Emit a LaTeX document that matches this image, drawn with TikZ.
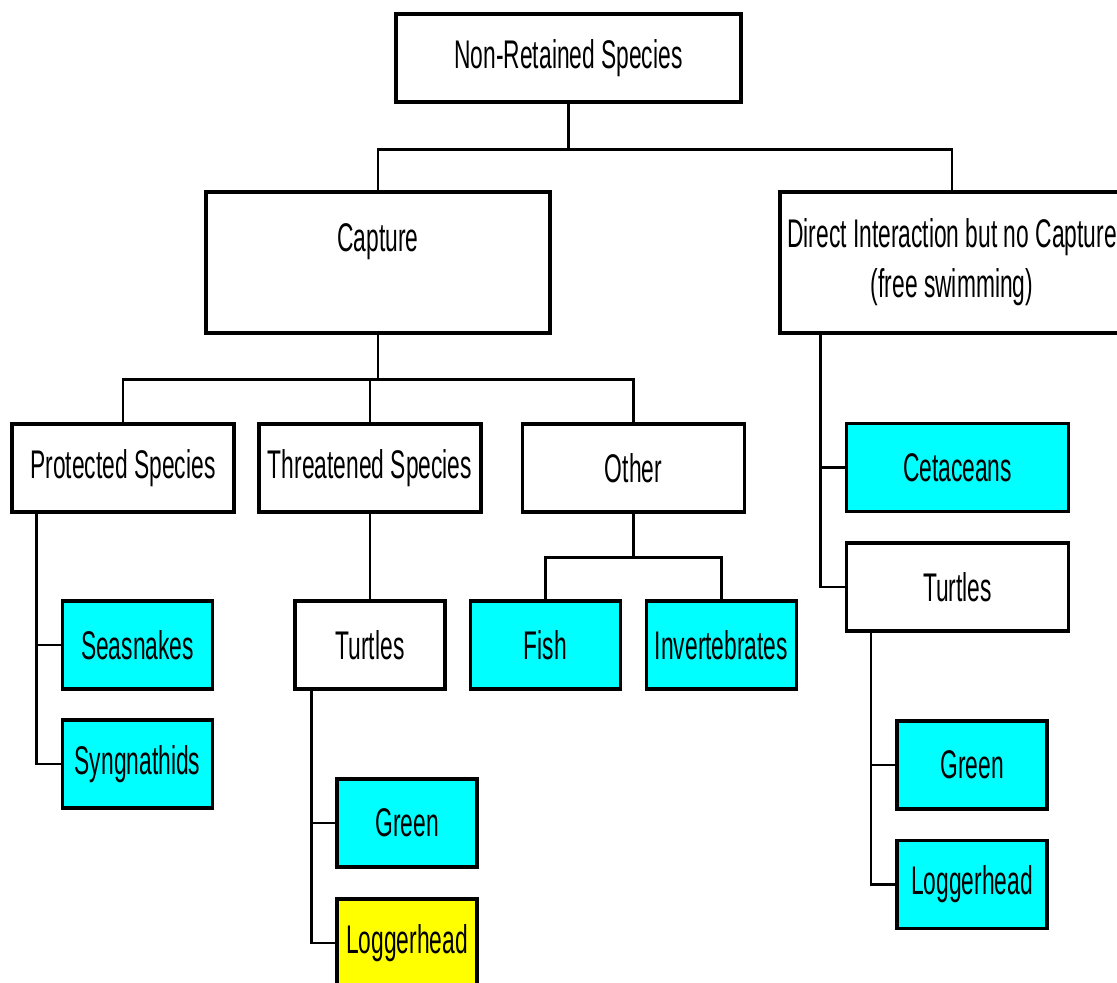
\documentclass[tikz,border=0pt]{standalone}
\usepackage{fontspec}
\setmainfont{Liberation Sans}[FakeStretch=0.57]
\definecolor{boxcyan}{HTML}{00FFFF}
\definecolor{boxyellow}{HTML}{FFFF00}
\begin{document}
\begin{tikzpicture}[x=1pt,y=-1pt,
  box/.style={draw=black, line width=3.4pt, fill=white, rectangle, inner sep=0pt,
    align=center, font=\fontsize{40}{50}\selectfont},
  wide/.style={box, minimum width=344pt, minimum height=141pt},
  mid/.style={box, minimum width=222pt, minimum height=88pt},
  small/.style={box, minimum width=150pt, minimum height=88pt},
  narrow/.style={box, minimum width=140pt, minimum height=88pt},
  cyanbox/.style={fill=boxcyan},
  yellowbox/.style={fill=boxyellow},
  link/.style={draw=black, line width=2.6pt}]
\useasboundingbox (0,0) rectangle (1117,983);

% level 0
\node[box, minimum width=345pt, minimum height=88pt] (root) at (568.5,58) {Non-Retained Species};

% level 1
\node[wide] (capture) at (378,262.5) {Capture\\\mbox{}};
\node[wide] (direct) at (952,262.5) {Direct Interaction but no Capture\\(free swimming)};

% level 2
\node[mid] (protected) at (123,468) {Protected Species};
\node[mid] (threatened) at (370,468) {Threatened Species};
\node[mid] (other) at (633.5,468) {Other};
\node[mid, cyanbox] (cetaceans) at (957.5,467.5) {Cetaceans};
\node[mid] (turtlesB) at (957.5,587) {Turtles};

% level 3
\node[small, cyanbox] (seasnakes) at (137.5,645) {Seasnakes};
\node[small, cyanbox] (syngnathids) at (137.5,764) {Syngnathids};
\node[small] (turtlesA) at (370,645) {Turtles};
\node[small, cyanbox] (fish) at (545.5,645) {Fish};
\node[small, cyanbox] (invert) at (721.5,645) {Invertebrates};

% level 4
\node[narrow, cyanbox] (greenA) at (407,823) {Green};
\node[narrow, yellowbox] (loggerA) at (407,943) {Loggerhead};
\node[small, cyanbox] (greenB) at (972,765) {Green};
\node[small, cyanbox] (loggerB) at (972,884.5) {Loggerhead};

% connectors: elbow lines from parent to children
\path[link] (root.south) -- ++(0,46) -| (capture.north);
\path[link] (root.south) -- ++(0,46) -| (direct.north);

\path[link] (capture.south) -- ++(0,45) -| (protected.north);
\path[link] (capture.south) -- ++(0,45) -| (threatened.north);
\path[link] (capture.south) -- ++(0,45) -| (other.north);

\path[link] ([xshift=26pt]protected.south west) |- (seasnakes.west);
\path[link] ([xshift=26pt]protected.south west) |- (syngnathids.west);

\path[link] (threatened.south) -- (turtlesA.north);
\path[link] ([xshift=18pt]turtlesA.south west) |- (greenA.west);
\path[link] ([xshift=18pt]turtlesA.south west) |- (loggerA.west);

\path[link] (other.south) -- ++(0,44) -| (fish.north);
\path[link] (other.south) -- ++(0,44) -| (invert.north);

\path[link] ([xshift=42pt]direct.south west) |- (cetaceans.west);
\path[link] ([xshift=42pt]direct.south west) |- (turtlesB.west);

\path[link] ([xshift=26pt]turtlesB.south west) |- (greenB.west);
\path[link] ([xshift=26pt]turtlesB.south west) |- (loggerB.west);
\end{tikzpicture}
\end{document}
